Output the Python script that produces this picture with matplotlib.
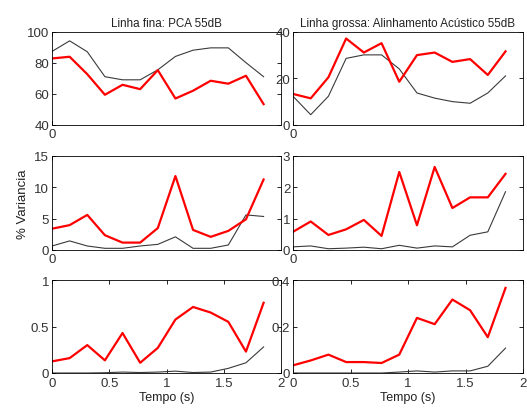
import matplotlib
matplotlib.use("Agg")
import matplotlib.pyplot as plt

plt.rcParams['font.family'] = ['Liberation Sans', 'DejaVu Sans']
plt.rcParams['font.size'] = 9

time = [0, 0.154, 0.308, 0.462, 0.616, 0.770, 0.924, 1.078, 1.232, 1.386, 1.540, 1.694, 1.848]

# Left column (PCA) - thin line, thick line
tl_thin = [87.2, 94, 87, 71, 69, 69, 75.4, 84, 88, 89.5, 89.5, 80, 71]
tl_thick = [82.7, 83.8, 72.6, 59.4, 65.8, 63, 75.2, 57, 62, 68.4, 66.5, 71.6, 53.4]
ml_thick = [3.4, 3.97, 5.6, 2.36, 1.18, 1.18, 3.5, 11.8, 3.2, 2.1, 3.05, 4.9, 11.25]
ml_thin = [0.64, 1.45, 0.64, 0.27, 0.27, 0.64, 0.9, 2.1, 0.27, 0.27, 0.8, 5.6, 5.35]
bl_thick = [0.125, 0.16, 0.30, 0.136, 0.43, 0.11, 0.27, 0.575, 0.71, 0.65, 0.55, 0.23, 0.755]
bl_thin = [0.0, 0.0, 0.0, 0.003, 0.01, 0.005, 0.01, 0.02, 0.005, 0.01, 0.05, 0.11, 0.28]

# Right column
tr_thin = [12.3, 4.4, 12.3, 28.5, 30, 30, 24, 13.7, 11.5, 10, 9.3, 13.7, 21]
tr_thick = [13.3, 11.4, 20.4, 37, 31, 35, 18.5, 29.9, 31, 27, 28.2, 21.4, 31.5]
mr_thick = [0.58, 0.91, 0.48, 0.66, 0.96, 0.45, 2.49, 0.79, 2.65, 1.34, 1.68, 1.68, 2.43]
mr_thin = [0.1, 0.13, 0.04, 0.06, 0.09, 0.04, 0.15, 0.06, 0.13, 0.1, 0.47, 0.58, 1.86]
br_thick = [0.033, 0.054, 0.079, 0.047, 0.047, 0.043, 0.079, 0.237, 0.21, 0.316, 0.27, 0.154, 0.366]
br_thin = [0.0, 0.0, 0.0, 0.0, 0.0, 0.0, 0.004, 0.009, 0.004, 0.009, 0.009, 0.029, 0.107]

titles = ["Linha fina: PCA 55dB", "Linha grossa: Alinhamento Acústico 55dB"]

panels = [
    [(tl_thin, tl_thick, (40, 100), [40, 60, 80, 100], ['40', '60', '80', '100']),
     (tr_thin, tr_thick, (0, 40), [0, 20, 40], ['0', '20', '40'])],
    [(ml_thin, ml_thick, (0, 15), [0, 5, 10, 15], ['0', '5', '10', '15']),
     (mr_thin, mr_thick, (0, 3), [0, 1, 2, 3], ['0', '1', '2', '3'])],
    [(bl_thin, bl_thick, (0, 1), [0, 0.5, 1], ['0', '0.5', '1']),
     (br_thin, br_thick, (0, 0.4), [0, 0.2, 0.4], ['0', '0.2', '0.4'])],
]

fig = plt.figure(figsize=(5.27, 4.10), dpi=100)
lefts = [52 / 527, 293 / 527]
widths = [229 / 527, 230 / 527]
rows = [(32.5, 126), (157, 251), (281, 374)]

for r, (ytop, ybot) in enumerate(rows):
    for c in range(2):
        thin, thick, ylim, yt, ytl = panels[r][c]
        ax = fig.add_axes([lefts[c], 1 - ybot / 410, widths[c], (ybot - ytop) / 410])
        ax.plot(time, thin, color='#3a3a3a', lw=0.8)
        ax.plot(time, thick, color='#ff0000', lw=1.6)
        ax.set_xlim(0, 2)
        ax.set_ylim(*ylim)
        ax.set_yticks(yt)
        ax.set_yticklabels(ytl)
        if r == 2:
            ax.set_xticks([0, 0.5, 1, 1.5, 2])
            ax.set_xticklabels(['0', '0.5', '1', '1.5', '2'])
            ax.set_xlabel("Tempo (s)", labelpad=1, color='#222222')
        else:
            ax.set_xticks([0])
            ax.set_xticklabels(['0'])
        ax.tick_params(direction='in', length=3, width=0.6, top=True, right=True,
                       pad=2, colors='black', labelcolor='#333333', labelsize=9.5)
        if r == 2:
            ax.tick_params(axis='x', pad=3)
        for s in ax.spines.values():
            s.set_linewidth(0.6)
        if r == 0:
            ax.set_title(titles[c], fontsize=8.4, pad=4, color='#222222')
        if r == 1 and c == 0:
            ax.set_ylabel("% Variancia", labelpad=4, fontsize=9.5, color='#222222')

fig.savefig("out.png", dpi=100)
